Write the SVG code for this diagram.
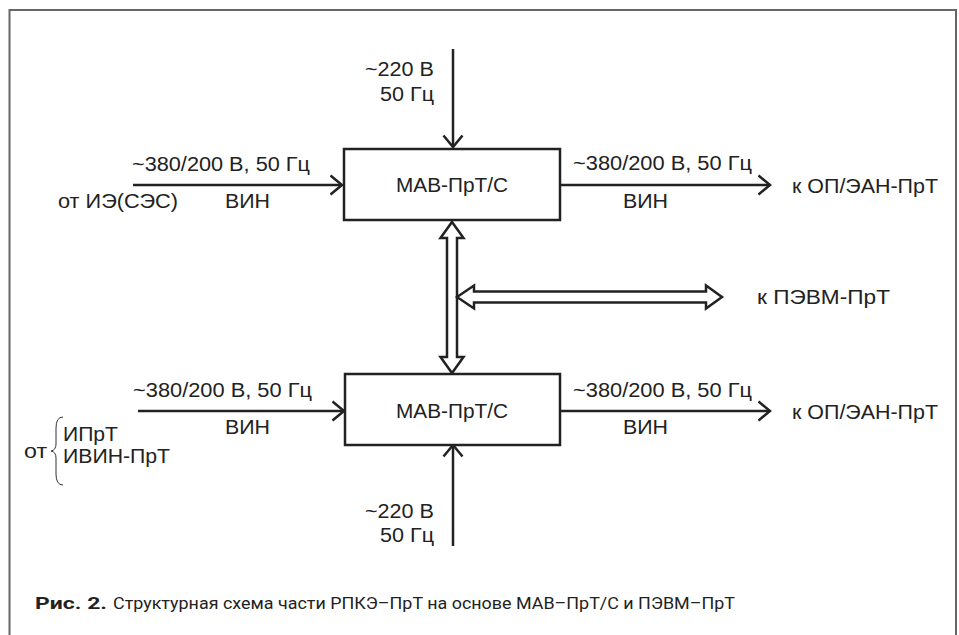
<svg xmlns="http://www.w3.org/2000/svg" width="959" height="635" viewBox="0 0 959 635">
<defs>
<style>
.t{font-family:"Liberation Sans",Arial,sans-serif;font-size:19.5px;fill:#222}
.box{fill:#fff;stroke:#222;stroke-width:2.5}
.ln{stroke:#222;stroke-width:2.5;fill:none}
.dbl{fill:#fff;stroke:#222;stroke-width:2.5;stroke-linejoin:miter}
.cap{font-family:Roboto,"Liberation Sans",sans-serif;font-size:17px;fill:#222}
</style>
<marker id="arr" markerUnits="userSpaceOnUse" viewBox="0 0 14 22" refX="12.5" refY="11" markerWidth="14" markerHeight="22" orient="auto">
<path d="M1,1.5 L12.5,11 L1,20.5" fill="none" stroke="#222" stroke-width="2.5"/>
</marker>
</defs>
<rect width="959" height="635" fill="#fff"/>
<path d="M9.5,635 L9.5,10 L956,10 L956,635" fill="none" stroke="#666" stroke-width="2"/>

<g id="connectors">
<line class="ln" x1="453" y1="49" x2="453" y2="147" marker-end="url(#arr)"/>
<line class="ln" x1="133" y1="185" x2="342" y2="185" marker-end="url(#arr)"/>
<line class="ln" x1="561" y1="185" x2="770" y2="185" marker-end="url(#arr)"/>
<line class="ln" x1="138" y1="411" x2="344" y2="411" marker-end="url(#arr)"/>
<line class="ln" x1="561" y1="411" x2="770" y2="411" marker-end="url(#arr)"/>
<line class="ln" x1="453" y1="546" x2="453" y2="445" marker-end="url(#arr)"/>
<path class="dbl" d="M452,222 L463.5,238 L457,238 L457,357 L463.5,357 L452,373 L440.5,357 L447,357 L447,238 L440.5,238 Z"/>
<path class="dbl" d="M457,297 L474,285.5 L474,291.5 L706,291.5 L706,285.5 L722,297 L706,308.5 L706,302.5 L474,302.5 L474,308.5 Z"/>
<path d="M63,417 Q56,417 56,428 L56,444 Q56,450 51,451 Q56,452 56,458 L56,474 Q56,485 63,485" fill="none" stroke="#333" stroke-width="1"/>
</g>

<g id="box1">
<rect class="box" x="344" y="149" width="216" height="71"/>
<text class="t" x="396" y="192" textLength="112" lengthAdjust="spacingAndGlyphs">МАВ-ПрТ/С</text>
</g>
<g id="box2">
<rect class="box" x="345" y="374" width="215" height="71"/>
<text class="t" x="396" y="418" textLength="112" lengthAdjust="spacingAndGlyphs">МАВ-ПрТ/С</text>
</g>

<g id="labels">
<text class="t" x="365" y="76" textLength="69" lengthAdjust="spacingAndGlyphs">~220 В</text>
<text class="t" x="380" y="101" textLength="54" lengthAdjust="spacingAndGlyphs">50 Гц</text>
<text class="t" x="132" y="171" textLength="178" lengthAdjust="spacingAndGlyphs">~380/200 В, 50 Гц</text>
<text class="t" x="225" y="208" textLength="45" lengthAdjust="spacingAndGlyphs">ВИН</text>
<text class="t" x="58" y="208" textLength="120" lengthAdjust="spacingAndGlyphs">от ИЭ(СЭС)</text>
<text class="t" x="573" y="170" textLength="179" lengthAdjust="spacingAndGlyphs">~380/200 В, 50 Гц</text>
<text class="t" x="623" y="208" textLength="45" lengthAdjust="spacingAndGlyphs">ВИН</text>
<text class="t" x="792" y="193" textLength="146" lengthAdjust="spacingAndGlyphs">к ОП/ЭАН-ПрТ</text>
<text class="t" x="757" y="304" textLength="133" lengthAdjust="spacingAndGlyphs">к ПЭВМ-ПрТ</text>
<text class="t" x="133" y="397" textLength="179" lengthAdjust="spacingAndGlyphs">~380/200 В, 50 Гц</text>
<text class="t" x="225" y="434" textLength="45" lengthAdjust="spacingAndGlyphs">ВИН</text>
<text class="t" x="573" y="397" textLength="179" lengthAdjust="spacingAndGlyphs">~380/200 В, 50 Гц</text>
<text class="t" x="623" y="434" textLength="45" lengthAdjust="spacingAndGlyphs">ВИН</text>
<text class="t" x="792" y="419" textLength="146" lengthAdjust="spacingAndGlyphs">к ОП/ЭАН-ПрТ</text>
<text class="t" x="24" y="458" textLength="23" lengthAdjust="spacingAndGlyphs">от</text>
<text class="t" x="63" y="441" textLength="55" lengthAdjust="spacingAndGlyphs">ИПрТ</text>
<text class="t" x="63" y="463" textLength="107" lengthAdjust="spacingAndGlyphs">ИВИН-ПрТ</text>
<text class="t" x="365" y="518" textLength="69" lengthAdjust="spacingAndGlyphs">~220 В</text>
<text class="t" x="380" y="542" textLength="54" lengthAdjust="spacingAndGlyphs">50 Гц</text>
</g>

<g id="caption">
<text class="cap" x="35" y="609" font-weight="bold" textLength="72" lengthAdjust="spacingAndGlyphs">Рис. 2.</text>
<text class="cap" x="113" y="609" textLength="622" lengthAdjust="spacingAndGlyphs">Структурная схема части РПКЭ–ПрТ на основе МАВ–ПрТ/С и ПЭВМ–ПрТ</text>
</g>
</svg>
